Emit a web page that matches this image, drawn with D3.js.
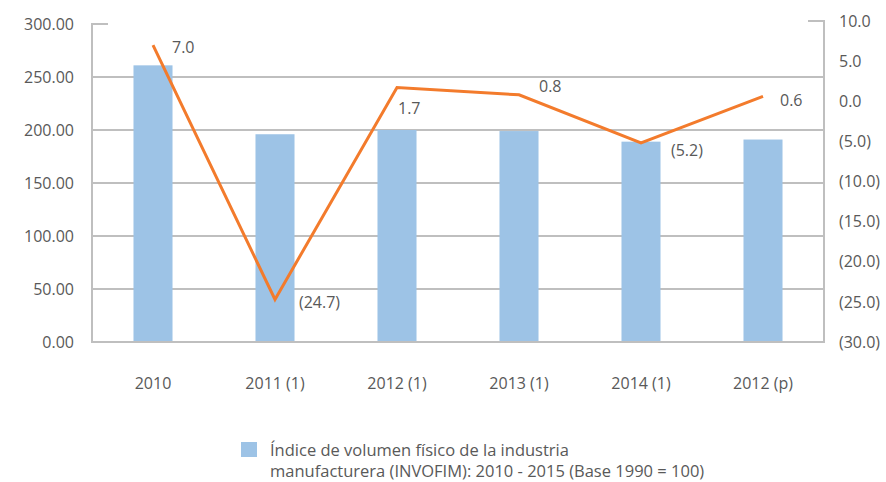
<!DOCTYPE html>
<html>
<head>
<meta charset="utf-8">
<script src="https://cdn.jsdelivr.net/npm/d3@7"></script>
<style>
  body { margin: 0; background: #fff; }
  text { font-family: "Open Sans", "Noto Sans", sans-serif; fill: #595959; }
</style>
</head>
<body>
<div id="chart"></div>
<script>
// data
var categories = ['2010', '2011 (1)', '2012 (1)', '2013 (1)', '2014 (1)', '2012 (p)'];
var indexValues = [261, 196, 200, 199, 189, 191];
var growthValues = [7.0, -24.7, 1.7, 0.8, -5.2, 0.6];
var leftTicks = [0, 50, 100, 150, 200, 250, 300];
var rightTicks = [10, 5, 0, -5, -10, -15, -20, -25, -30];
var legendLines = ['Índice de volumen físico de la industria',
                   'manufacturera (INVOFIM): 2010 - 2015 (Base 1990 = 100)'];

// hand placed label offsets (dx, dy) like the original
var labelOffsets = [[19, 8], [24, 9], [1, 26], [20, -3], [30, 13], [17, 10]];

var WIDTH = 886, HEIGHT = 482,
    LEFT = 92, RIGHT = 824, BOTTOM = 342,
    GRID = '#bfbfbf', BAR = '#9dc3e6', LINE = '#f37b2c',
    FONT_SIZE = '16px';

var svg = d3.select('#chart').append('svg')
    .attr('width', WIDTH)
    .attr('height', HEIGHT);

var x = d3.scaleBand()
    .domain(categories)
    .range([LEFT, RIGHT])
    .paddingInner(0.68)
    .paddingOuter(0.34);

var yLeft = d3.scaleLinear().domain([0, 300]).range([BOTTOM, 24]);
var yRight = d3.scaleLinear().domain([-30, 10]).range([BOTTOM, 21]);

function fmtRight(v){
    var s = d3.format('.1f')(Math.abs(v));
    return v < 0 ? '(' + s + ')' : s;
}

// gridlines
svg.append('g').selectAll('line')
    .data(leftTicks.filter(function(d){ return d > 0 && d < 300; }))
    .enter().append('line')
    .attr('x1', LEFT).attr('x2', RIGHT)
    .attr('y1', function(d){ return yLeft(d); })
    .attr('y2', function(d){ return yLeft(d); })
    .attr('stroke', GRID).attr('stroke-width', 2);

// bars
svg.append('g').selectAll('rect')
    .data(indexValues)
    .enter().append('rect')
    .attr('x', function(d, i){ return x(categories[i]); })
    .attr('width', x.bandwidth())
    .attr('y', function(d){ return yLeft(d); })
    .attr('height', function(d){ return BOTTOM - yLeft(d); })
    .attr('fill', BAR);

// axes
var leftAxis = svg.append('g')
    .attr('transform', 'translate(' + LEFT + ',0)')
    .call(d3.axisLeft(yLeft).tickValues(leftTicks).tickSize(0).tickPadding(18).tickFormat(d3.format('.2f')));
var rightAxis = svg.append('g')
    .attr('transform', 'translate(' + RIGHT + ',0)')
    .call(d3.axisRight(yRight).tickValues(rightTicks).tickSize(0).tickPadding(15).tickFormat(fmtRight));
[leftAxis, rightAxis].forEach(function(a){
    a.select('.domain').remove();
    a.selectAll('text').style('font-size', FONT_SIZE).attr('fill', '#595959')
        .style('font-family', '"Open Sans", sans-serif');
});

svg.append('path')
    .attr('d', 'M' + (LEFT + 16) + ',' + yLeft(300) + 'H' + LEFT + 'V' + BOTTOM + 'H' + RIGHT + 'V' + yRight(10) + 'H' + (RIGHT - 16))
    .attr('fill', 'none').attr('stroke', GRID).attr('stroke-width', 2);

var xAxis = svg.append('g')
    .attr('transform', 'translate(0,' + BOTTOM + ')')
    .call(d3.axisBottom(x).tickSize(0).tickPadding(36));
xAxis.select('.domain').remove();
xAxis.selectAll('text').style('font-size', FONT_SIZE).attr('fill', '#595959')
    .style('font-family', '"Open Sans", sans-serif');

// growth line
var cx = function(d, i){ return x(categories[i]) + x.bandwidth() / 2; };
var line = d3.line()
    .x(cx)
    .y(function(d){ return yRight(d); });

svg.append('path')
    .datum(growthValues)
    .attr('d', line)
    .attr('fill', 'none')
    .attr('stroke', LINE)
    .attr('stroke-width', 3)
    .attr('stroke-linejoin', 'miter');

svg.append('g').selectAll('text')
    .data(growthValues)
    .enter().append('text')
    .attr('x', function(d, i){ return cx(d, i) + labelOffsets[i][0]; })
    .attr('y', function(d, i){ return yRight(d) + labelOffsets[i][1]; })
    .style('font-size', FONT_SIZE)
    .text(fmtRight);

// legend
var legend = svg.append('g').attr('transform', 'translate(241,442)');
legend.append('rect')
    .attr('width', 16).attr('height', 15)
    .attr('fill', BAR);
legend.selectAll('text.l')
    .data(legendLines)
    .enter().append('text')
    .attr('class', 'l')
    .attr('x', 29)
    .attr('y', function(d, i){ return 14 + i * 21; })
    .style('font-size', '16.5px')
    .text(function(d){ return d; });
</script>
</body>
</html>
